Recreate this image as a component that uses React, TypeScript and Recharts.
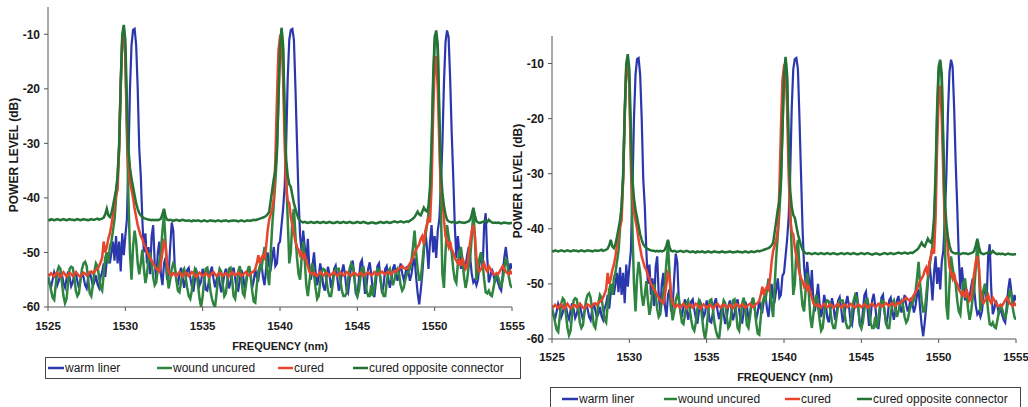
import React from 'react';
import { LineChart, Line, XAxis, YAxis } from 'recharts';

// Wavelength sampling (nm)
const NM = [
  1525.0,1525.1,1525.2,1525.3,1525.4,1525.5,1525.6,1525.7,1525.8,1525.9,
  1526.0,1526.1,1526.2,1526.3,1526.4,1526.5,1526.6,1526.7,1526.8,1526.9,
  1527.0,1527.1,1527.2,1527.3,1527.4,1527.5,1527.6,1527.7,1527.8,1527.9,
  1528.0,1528.1,1528.2,1528.3,1528.4,1528.5,1528.6,1528.7,1528.8,1528.9,
  1529.0,1529.1,1529.2,1529.3,1529.4,1529.5,1529.6,1529.7,1529.8,1529.9,
  1530.0,1530.1,1530.2,1530.3,1530.4,1530.5,1530.6,1530.7,1530.8,1530.9,
  1531.0,1531.1,1531.2,1531.3,1531.4,1531.5,1531.6,1531.7,1531.8,1531.9,
  1532.0,1532.1,1532.2,1532.3,1532.4,1532.5,1532.6,1532.7,1532.8,1532.9,
  1533.0,1533.1,1533.2,1533.3,1533.4,1533.5,1533.6,1533.7,1533.8,1533.9,
  1534.0,1534.1,1534.2,1534.3,1534.4,1534.5,1534.6,1534.7,1534.8,1534.9,
  1535.0,1535.1,1535.2,1535.3,1535.4,1535.5,1535.6,1535.7,1535.8,1535.9,
  1536.0,1536.1,1536.2,1536.3,1536.4,1536.5,1536.6,1536.7,1536.8,1536.9,
  1537.0,1537.1,1537.2,1537.3,1537.4,1537.5,1537.6,1537.7,1537.8,1537.9,
  1538.0,1538.1,1538.2,1538.3,1538.4,1538.5,1538.6,1538.7,1538.8,1538.9,
  1539.0,1539.1,1539.2,1539.3,1539.4,1539.5,1539.6,1539.7,1539.8,1539.9,
  1540.0,1540.1,1540.2,1540.3,1540.4,1540.5,1540.6,1540.7,1540.8,1540.9,
  1541.0,1541.1,1541.2,1541.3,1541.4,1541.5,1541.6,1541.7,1541.8,1541.9,
  1542.0,1542.1,1542.2,1542.3,1542.4,1542.5,1542.6,1542.7,1542.8,1542.9,
  1543.0,1543.1,1543.2,1543.3,1543.4,1543.5,1543.6,1543.7,1543.8,1543.9,
  1544.0,1544.1,1544.2,1544.3,1544.4,1544.5,1544.6,1544.7,1544.8,1544.9,
  1545.0,1545.1,1545.2,1545.3,1545.4,1545.5,1545.6,1545.7,1545.8,1545.9,
  1546.0,1546.1,1546.2,1546.3,1546.4,1546.5,1546.6,1546.7,1546.8,1546.9,
  1547.0,1547.1,1547.2,1547.3,1547.4,1547.5,1547.6,1547.7,1547.8,1547.9,
  1548.0,1548.1,1548.2,1548.3,1548.4,1548.5,1548.6,1548.7,1548.8,1548.9,
  1549.0,1549.1,1549.2,1549.3,1549.4,1549.5,1549.6,1549.7,1549.8,1549.9,
  1550.0,1550.1,1550.2,1550.3,1550.4,1550.5,1550.6,1550.7,1550.8,1550.9,
  1551.0,1551.1,1551.2,1551.3,1551.4,1551.5,1551.6,1551.7,1551.8,1551.9,
  1552.0,1552.1,1552.2,1552.3,1552.4,1552.5,1552.6,1552.7,1552.8,1552.9,
  1553.0,1553.1,1553.2,1553.3,1553.4,1553.5,1553.6,1553.7,1553.8,1553.9,
  1554.0,1554.1,1554.2,1554.3,1554.4,1554.5,1554.6,1554.7,1554.8,1554.9,
  1555.0,
];

// warm liner (dB)
const WARM = [
  -54.5,-55.8,-56.3,-55.0,-53.6,-54.4,-56.0,-55.2,-53.8,-54.0,
  -55.6,-56.4,-54.8,-53.5,-54.6,-56.2,-55.5,-54.0,-53.7,-55.3,
  -56.5,-55.0,-53.8,-54.5,-56.0,-56.6,-54.6,-53.5,-54.8,-56.1,
  -55.4,-54.2,-55.8,-56.5,-54.5,-53.6,-52.0,-54.5,-51.5,-50.0,
  -52.0,-50.0,-48.0,-51.5,-47.0,-52.0,-48.0,-53.5,-46.5,-50.5,
  -47.0,-44.0,-33.0,-20.0,-12.0,-9.2,-9.0,-12.0,-20.0,-31.0,
  -36.0,-44.0,-50.0,-46.5,-52.0,-49.0,-54.0,-47.0,-45.0,-52.0,
  -55.0,-50.0,-48.0,-54.0,-56.0,-52.0,-51.0,-55.0,-54.0,-49.0,
  -44.5,-46.0,-53.0,-55.0,-56.0,-54.0,-52.8,-54.5,-56.5,-55.0,
  -53.2,-52.8,-54.6,-56.3,-57.2,-55.0,-53.4,-54.2,-56.0,-55.3,
  -53.0,-54.5,-56.8,-57.0,-55.2,-53.5,-52.6,-54.8,-56.4,-55.0,
  -53.8,-55.6,-57.3,-56.0,-54.0,-53.0,-54.5,-56.6,-55.4,-53.6,
  -52.8,-54.7,-56.8,-57.0,-55.0,-53.2,-54.0,-56.2,-55.5,-53.4,
  -52.6,-54.4,-56.5,-55.2,-53.0,-54.6,-55.0,-53.0,-52.0,-54.5,
  -56.0,-53.0,-50.0,-52.5,-53.0,-51.0,-49.0,-52.5,-52.0,-48.5,
  -48.0,-45.0,-42.0,-38.0,-30.0,-18.0,-11.0,-9.2,-9.0,-11.0,
  -20.0,-30.0,-40.0,-47.0,-50.0,-46.0,-49.0,-52.0,-47.5,-53.0,
  -55.0,-52.5,-50.0,-53.5,-56.0,-54.5,-52.0,-53.6,-56.2,-57.0,
  -54.8,-52.6,-54.0,-56.5,-55.2,-53.0,-52.4,-54.5,-57.0,-56.0,
  -53.5,-52.2,-54.0,-56.8,-57.4,-55.0,-52.5,-51.5,-54.0,-57.5,
  -58.0,-55.0,-52.0,-51.4,-54.5,-57.6,-56.0,-53.0,-51.8,-54.0,
  -57.0,-58.2,-55.5,-52.5,-52.0,-55.0,-57.5,-56.0,-53.0,-52.5,
  -54.6,-56.5,-55.0,-53.0,-52.2,-54.0,-55.2,-53.5,-52.0,-53.8,
  -55.0,-54.0,-52.5,-53.5,-55.2,-54.0,-52.0,-51.0,-54.5,-57.5,
  -59.5,-57.0,-54.0,-50.0,-46.0,-49.0,-53.0,-48.0,-45.0,-50.0,
  -47.0,-51.0,-46.0,-44.0,-38.0,-30.0,-19.0,-11.5,-9.3,-10.5,
  -18.0,-28.0,-36.0,-45.0,-51.0,-47.0,-50.0,-53.0,-51.0,-53.0,
  -52.5,-50.5,-49.0,-51.0,-54.0,-55.5,-55.0,-56.0,-55.0,-52.0,
  -50.0,-53.0,-45.0,-42.8,-51.0,-55.5,-54.5,-53.0,-54.0,-55.5,
  -54.0,-55.5,-56.5,-57.0,-54.0,-51.0,-49.0,-51.5,-54.0,-52.0,
  -53.0,
];

// wound uncured (dB)
const WOUND = [
  -54.5,-55.5,-57.0,-58.3,-58.7,-56.0,-53.5,-52.6,-53.0,-55.5,
  -58.0,-59.3,-58.5,-55.5,-53.0,-52.6,-52.8,-54.5,-57.0,-58.0,
  -57.5,-55.0,-53.0,-52.0,-51.7,-52.5,-55.0,-57.5,-58.0,-56.0,
  -53.5,-52.0,-52.5,-54.5,-56.5,-57.0,-54.0,-51.0,-50.0,-52.0,
  -49.0,-48.0,-46.0,-44.0,-40.0,-36.0,-31.0,-20.0,-11.0,-9.0,
  -14.0,-28.0,-40.0,-50.0,-55.0,-49.0,-46.0,-48.0,-52.0,-54.0,
  -52.0,-49.5,-53.0,-55.6,-54.0,-51.0,-50.0,-52.0,-54.5,-56.0,
  -55.5,-53.0,-51.5,-50.0,-46.0,-43.0,-48.0,-54.0,-56.6,-55.0,
  -53.0,-52.0,-52.5,-55.0,-57.0,-57.3,-55.5,-53.5,-53.0,-54.5,
  -56.5,-58.0,-58.5,-57.0,-54.5,-53.0,-53.5,-56.0,-58.5,-60.0,
  -58.0,-55.0,-53.0,-52.8,-54.5,-57.0,-58.5,-59.5,-60.0,-57.5,
  -54.5,-53.0,-53.5,-56.0,-58.0,-57.5,-55.0,-53.0,-52.8,-55.0,
  -58.0,-58.5,-56.0,-53.5,-52.5,-54.5,-57.5,-58.0,-56.0,-53.5,
  -52.5,-54.0,-57.0,-59.0,-59.2,-56.0,-53.5,-52.5,-53.0,-51.0,
  -49.0,-51.0,-54.0,-56.0,-50.0,-45.0,-41.0,-37.0,-32.0,-22.0,
  -12.0,-9.2,-13.0,-26.0,-36.0,-44.0,-52.0,-50.0,-44.0,-42.0,
  -47.0,-51.0,-54.0,-55.0,-51.0,-48.0,-51.5,-56.0,-58.0,-55.5,
  -53.0,-52.0,-54.0,-56.5,-58.5,-58.0,-55.5,-53.5,-53.0,-53.2,
  -55.0,-57.0,-58.0,-58.0,-56.0,-54.0,-53.0,-53.0,-53.0,-55.0,
  -57.0,-58.0,-58.0,-57.5,-55.0,-53.0,-52.0,-52.5,-54.5,-57.0,
  -58.0,-57.0,-54.5,-53.0,-52.8,-54.5,-57.0,-58.0,-58.0,-56.0,
  -58.0,-56.5,-54.0,-53.0,-53.2,-55.0,-57.0,-58.0,-58.0,-55.5,
  -53.5,-53.0,-54.5,-56.0,-55.0,-53.5,-53.0,-54.0,-56.0,-57.0,
  -56.5,-55.0,-54.0,-53.5,-53.0,-51.5,-49.0,-46.0,-50.0,-53.0,
  -55.0,-55.0,-52.0,-49.0,-47.0,-45.0,-43.0,-40.0,-32.0,-20.0,
  -11.5,-9.8,-13.0,-27.0,-42.0,-54.0,-56.5,-50.0,-45.0,-47.0,
  -49.0,-50.0,-53.0,-55.0,-55.6,-52.0,-50.0,-49.0,-51.5,-54.5,
  -56.5,-55.0,-52.5,-51.0,-47.0,-42.5,-47.0,-55.0,-53.0,-51.0,
  -50.0,-52.0,-55.0,-57.3,-57.5,-57.0,-57.8,-58.0,-56.5,-55.0,
  -54.0,-54.5,-55.5,-56.4,-55.0,-53.0,-51.0,-52.0,-54.5,-56.0,
  -56.5,
];

// cured (dB)
const CURED = [
  -54.0,-54.2,-53.8,-54.1,-54.4,-53.9,-53.7,-54.2,-54.5,-54.0,
  -53.6,-54.0,-54.4,-54.1,-53.8,-53.9,-54.3,-54.0,-53.6,-53.9,
  -54.3,-54.4,-54.0,-53.7,-53.9,-54.2,-54.0,-53.6,-53.5,-53.8,
  -53.5,-53.2,-53.0,-52.5,-51.8,-51.0,-48.0,-50.0,-49.0,-47.5,
  -46.5,-45.0,-43.0,-41.0,-39.5,-38.5,-31.0,-19.0,-11.5,-9.8,
  -13.5,-26.0,-34.0,-37.0,-38.5,-40.0,-42.0,-43.5,-45.0,-46.0,
  -47.0,-47.5,-48.5,-49.0,-50.0,-50.5,-51.0,-51.5,-52.0,-52.5,
  -53.0,-53.2,-53.5,-52.0,-50.0,-48.0,-48.5,-52.0,-53.5,-54.0,
  -54.2,-53.8,-54.0,-54.3,-53.9,-53.6,-54.0,-54.4,-54.1,-53.7,
  -53.9,-54.3,-54.0,-53.6,-53.8,-54.2,-54.5,-54.0,-53.7,-54.0,
  -54.3,-54.1,-53.8,-54.0,-54.4,-54.2,-53.8,-53.6,-54.0,-54.3,
  -54.0,-53.7,-53.9,-54.3,-54.1,-53.8,-54.0,-54.4,-54.0,-53.6,
  -53.8,-54.2,-54.0,-53.7,-53.9,-54.3,-54.1,-53.8,-53.6,-54.0,
  -54.2,-53.9,-53.6,-53.5,-53.0,-52.0,-50.5,-52.0,-51.0,-50.5,
  -51.0,-49.0,-46.0,-44.0,-43.0,-42.0,-40.0,-33.0,-22.0,-13.0,
  -10.5,-10.8,-18.0,-30.0,-38.0,-40.5,-41.0,-43.5,-45.0,-46.5,
  -48.0,-49.0,-49.5,-50.5,-50.0,-51.0,-50.5,-51.5,-52.5,-53.5,
  -53.8,-54.0,-53.7,-54.1,-54.3,-53.9,-53.6,-53.9,-54.2,-54.0,
  -53.7,-53.9,-54.3,-54.1,-53.8,-53.6,-54.0,-54.3,-54.0,-53.7,
  -53.9,-54.2,-54.0,-53.6,-53.8,-54.1,-54.3,-54.0,-53.7,-53.9,
  -54.2,-54.0,-53.7,-53.9,-54.3,-54.1,-53.8,-53.6,-53.9,-54.2,
  -54.0,-53.6,-53.8,-54.1,-54.0,-53.7,-53.5,-53.8,-54.0,-53.7,
  -53.5,-53.8,-54.0,-53.6,-53.4,-53.5,-53.2,-53.0,-52.8,-52.5,
  -52.8,-53.0,-53.0,-52.5,-52.0,-51.5,-51.0,-50.0,-49.5,-49.0,
  -48.5,-47.5,-47.0,-48.5,-46.0,-45.0,-43.5,-44.5,-38.0,-25.0,
  -16.0,-14.0,-20.0,-30.0,-38.0,-40.0,-44.0,-47.0,-48.0,-49.0,
  -48.0,-49.5,-50.0,-51.0,-51.5,-52.0,-51.5,-52.5,-51.0,-52.0,
  -53.0,-52.5,-50.0,-48.0,-46.0,-45.0,-47.0,-51.0,-53.0,-53.5,
  -53.0,-52.5,-52.0,-53.0,-53.5,-52.5,-53.0,-53.5,-54.0,-54.0,
  -53.8,-54.0,-53.5,-53.0,-52.5,-53.0,-53.5,-53.8,-54.0,-53.5,
  -54.0,
];

// cured opposite connector (dB)
const OPP = [
  -44.0,-44.1,-43.9,-44.0,-44.1,-44.0,-43.9,-44.0,-44.1,-44.0,
  -43.9,-44.0,-44.1,-44.0,-43.9,-44.0,-44.0,-44.1,-44.0,-43.9,
  -44.0,-44.1,-44.0,-43.9,-44.0,-44.0,-44.1,-44.0,-43.9,-44.0,
  -44.0,-43.9,-43.8,-44.0,-43.9,-43.8,-43.6,-43.0,-42.0,-43.2,
  -43.5,-42.8,-41.5,-40.0,-38.5,-36.0,-30.0,-19.0,-10.0,-8.3,
  -11.0,-22.0,-31.0,-34.5,-36.5,-38.0,-39.5,-41.0,-42.0,-42.8,
  -43.2,-43.5,-43.7,-43.8,-43.9,-44.0,-44.0,-44.1,-44.0,-44.1,
  -44.0,-44.1,-44.0,-43.8,-43.0,-42.0,-43.4,-44.0,-44.1,-44.0,
  -44.1,-44.2,-44.1,-44.0,-44.1,-44.2,-44.1,-44.0,-44.1,-44.2,
  -44.2,-44.1,-44.2,-44.3,-44.1,-44.2,-44.2,-44.1,-44.2,-44.3,
  -44.2,-44.1,-44.2,-44.3,-44.2,-44.1,-44.2,-44.2,-44.3,-44.2,
  -44.1,-44.2,-44.3,-44.2,-44.2,-44.1,-44.2,-44.3,-44.2,-44.2,
  -44.1,-44.2,-44.2,-44.3,-44.2,-44.1,-44.2,-44.3,-44.2,-44.1,
  -44.2,-44.2,-44.1,-44.0,-44.1,-44.0,-43.9,-43.8,-43.7,-43.6,
  -43.5,-43.3,-43.0,-42.5,-40.5,-38.5,-36.5,-35.0,-31.0,-22.0,
  -12.5,-8.8,-12.0,-24.0,-33.0,-36.0,-37.5,-38.0,-39.5,-41.0,
  -42.0,-43.0,-43.8,-44.2,-44.4,-44.5,-44.4,-44.5,-44.6,-44.5,
  -44.4,-44.5,-44.6,-44.5,-44.4,-44.5,-44.6,-44.5,-44.4,-44.5,
  -44.6,-44.5,-44.4,-44.5,-44.6,-44.6,-44.5,-44.4,-44.5,-44.6,
  -44.5,-44.4,-44.5,-44.6,-44.5,-44.4,-44.5,-44.6,-44.6,-44.5,
  -44.4,-44.5,-44.6,-44.5,-44.4,-44.5,-44.6,-44.7,-44.6,-44.5,
  -44.5,-44.6,-44.7,-44.6,-44.5,-44.4,-44.5,-44.6,-44.5,-44.4,
  -44.5,-44.6,-44.5,-44.4,-44.3,-44.4,-44.5,-44.4,-44.3,-44.4,
  -44.5,-44.4,-44.3,-44.4,-44.2,-44.0,-43.8,-43.5,-43.0,-42.5,
  -43.0,-43.2,-42.5,-41.8,-42.3,-42.5,-41.5,-38.0,-30.0,-18.0,
  -10.5,-9.3,-12.0,-24.0,-35.0,-39.0,-41.5,-43.0,-44.0,-44.3,
  -44.4,-44.5,-44.4,-44.5,-44.6,-44.5,-44.4,-44.5,-44.5,-44.6,
  -44.5,-44.4,-44.3,-44.0,-43.0,-41.8,-43.2,-44.3,-44.5,-44.6,
  -44.5,-44.4,-44.3,-44.2,-44.4,-44.0,-44.3,-44.5,-44.6,-44.5,
  -44.6,-44.5,-44.6,-44.7,-44.6,-44.5,-44.6,-44.6,-44.7,-44.6,
  -44.6,
];

const X_TICKS = [1525, 1530, 1535, 1540, 1545, 1550, 1555];
const Y_TICKS = [-60, -50, -40, -30, -20, -10];
const SERIES_NAMES = ['warm liner', 'wound uncured', 'cured', 'cured opposite connector'];
const X_TITLE = 'FREQUENCY (nm)';
const Y_TITLE = 'POWER LEVEL (dB)';

const COLORS = {
  warm: '#2b37ad',
  wound: '#2f8540',
  cured: '#e8452d',
  opp: '#237236',
};

const DATA = NM.map((nm, i) => ({
  nm,
  warm: WARM[i],
  wound: WOUND[i],
  cured: CURED[i],
  opp: OPP[i],
}));

const FONT = '"Liberation Sans", Arial, Helvetica, sans-serif';

function Panel({ top, bottom, xTickMargin }: { top: number; bottom: number; xTickMargin: number }) {
  return (
    <LineChart
      width={530}
      height={407}
      data={DATA}
      margin={{ top, right: 18, bottom, left: 0 }}
      style={{ fontFamily: FONT }}
    >
      <XAxis
        dataKey="nm"
        type="number"
        domain={[1525, 1555]}
        ticks={X_TICKS}
        interval={0}
        height={30}
        tickSize={4}
        tickMargin={xTickMargin}
        stroke="#555"
        tick={{ fill: '#1a1a1a', fontSize: 11.5, fontWeight: 'bold', fontFamily: FONT }}
        allowDataOverflow
      />
      <YAxis
        type="number"
        domain={[-60, -5]}
        ticks={Y_TICKS}
        interval={0}
        width={48}
        tickSize={4}
        tickMargin={4}
        stroke="#555"
        tick={{ fill: '#1a1a1a', fontSize: 12, fontWeight: 'bold', fontFamily: FONT }}
        allowDataOverflow
      />
      <Line type="linear" dataKey="warm" stroke={COLORS.warm} strokeWidth={2.2} dot={false} isAnimationActive={false} />
      <Line type="linear" dataKey="wound" stroke={COLORS.wound} strokeWidth={2.5} dot={false} isAnimationActive={false} />
      <Line type="linear" dataKey="cured" stroke={COLORS.cured} strokeWidth={2.5} dot={false} isAnimationActive={false} />
      <Line type="linear" dataKey="opp" stroke={COLORS.opp} strokeWidth={2.5} dot={false} isAnimationActive={false} />
    </LineChart>
  );
}

function LegendBox({ x, y, w, h, items, textY }: { x: number; y: number; w: number; h: number; items: { lx: number; tx: number }[]; textY: number }) {
  const cols = [COLORS.warm, COLORS.wound, COLORS.cured, COLORS.opp];
  return (
    <g>
      <rect x={x + 0.5} y={y + 0.5} width={w} height={h} fill="#fff" stroke="#444" strokeWidth={1} />
      {items.map((it, i) => (
        <g key={i}>
          <line x1={it.lx} x2={it.tx} y1={textY} y2={textY} stroke={cols[i]} strokeWidth={2.5} />
          <text x={it.tx + 1} y={textY} dominantBaseline="central" fontSize={12} fill="#1a1a1a" fontFamily={FONT}>
            {SERIES_NAMES[i]}
          </text>
        </g>
      ))}
    </g>
  );
}

export default function App() {
  return (
    <div
      style={{
        position: 'absolute',
        left: 0,
        top: 0,
        width: 1028,
        height: 407,
        background: '#fff',
        overflow: 'hidden',
        fontFamily: FONT,
      }}
    >
      <div style={{ position: 'absolute', left: 0, top: 0 }}>
        <Panel top={7} bottom={70} xTickMargin={11} />
      </div>
      <div style={{ position: 'absolute', left: 504, top: 0 }}>
        <Panel top={36} bottom={38} xTickMargin={10} />
      </div>
      <svg
        width={1028}
        height={407}
        style={{ position: 'absolute', left: 0, top: 0, pointerEvents: 'none' }}
      >
        <text
          transform="translate(14,155) rotate(-90)"
          textAnchor="middle"
          dominantBaseline="central"
          fontSize={12}
          fontWeight="bold"
          fill="#1a1a1a"
          fontFamily={FONT}
        >
          {Y_TITLE}
        </text>
        <text
          transform="translate(518,181) rotate(-90)"
          textAnchor="middle"
          dominantBaseline="central"
          fontSize={12}
          fontWeight="bold"
          fill="#1a1a1a"
          fontFamily={FONT}
        >
          {Y_TITLE}
        </text>
        <text x={280} y={346} textAnchor="middle" dominantBaseline="central" fontSize={11} fontWeight="bold" fill="#1a1a1a" fontFamily={FONT}>
          {X_TITLE}
        </text>
        <text x={785} y={377} textAnchor="middle" dominantBaseline="central" fontSize={11} fontWeight="bold" fill="#1a1a1a" fontFamily={FONT}>
          {X_TITLE}
        </text>
        <LegendBox
          x={45}
          y={357}
          w={475}
          h={21}
          textY={368}
          items={[
            { lx: 48, tx: 64 },
            { lx: 157, tx: 172 },
            { lx: 278, tx: 293 },
            { lx: 353, tx: 368 },
          ]}
        />
        <LegendBox
          x={550}
          y={387}
          w={470}
          h={30}
          textY={399}
          items={[
            { lx: 562, tx: 578 },
            { lx: 664, tx: 677 },
            { lx: 785, tx: 800 },
            { lx: 857, tx: 872 },
          ]}
        />
      </svg>
    </div>
  );
}
